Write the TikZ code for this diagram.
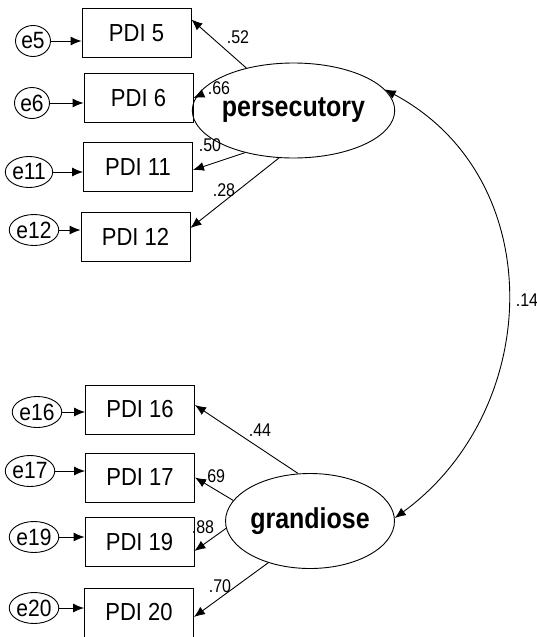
\documentclass[tikz,border=0pt]{standalone}
\usepackage{fontspec}
\setmainfont{Liberation Sans}
\usepackage{graphicx}
\usetikzlibrary{shapes.geometric,arrows.meta,calc}
% slightly taller lettering, as in the path-diagram output
\newcommand{\vstretch}[2][1.12]{\scalebox{1}[#1]{#2}}

\begin{document}
\begin{tikzpicture}[x=1pt,y=-1pt,
  obs/.style={draw,line width=0.9pt,minimum width=109pt,minimum height=49pt,inner sep=0pt,
              font=\fontsize{22}{22}\selectfont},
  lat/.style={draw,ellipse,line width=0.9pt,minimum width=161pt,minimum height=95pt,inner sep=0pt,
              font=\fontsize{25}{25}\selectfont\bfseries},
  err/.style={draw,ellipse,line width=0.9pt,minimum width=35pt,minimum height=31pt,inner sep=0pt,
              font=\fontsize{21}{21}\selectfont},
  ld/.style={inner sep=0pt,font=\fontsize{16}{16}\selectfont},
  arr/.style={-{Latex[length=11pt,width=9pt]},line width=0.9pt},
  cov/.style={{Latex[length=11pt,width=9pt]}-{Latex[length=11pt,width=9pt]},line width=0.9pt}]

\useasboundingbox (0,0) rectangle (537,637);

% latent factors
\node[lat] (per) at (293.5,110.5) {\vstretch[1.15]{persecutory}};
\node[lat] (gra) at (310,521) {\vstretch[1.15]{grandiose}};

% observed items
\node[obs] (p5)  at (136.5,33)  {\vstretch{PDI 5}};
\node[obs] (p6)  at (138.5,98)  {\vstretch{PDI 6}};
\node[obs] (p11) at (138,167)   {\vstretch{PDI 11}};
\node[obs] (p12) at (135.5,237) {\vstretch{PDI 12}};
\node[obs] (p16) at (140,409.5) {\vstretch{PDI 16}};
\node[obs] (p17) at (140,477.5) {\vstretch{PDI 17}};
\node[obs] (p19) at (139.5,542) {\vstretch{PDI 19}};
\node[obs] (p20) at (139,612.5) {\vstretch{PDI 20}};

% error terms
\node[err] (e5)  at (33,41)   {\vstretch{e5}};
\node[err] (e6)  at (32,103)  {\vstretch{e6}};
\node[err] (e11) at (29,172)  {\vstretch{e11}};
\node[err] (e12) at (34,230)  {\vstretch{e12}};
\node[err] (e16) at (37,412)  {\vstretch{e16}};
\node[err] (e17) at (30,471)  {\vstretch{e17}};
\node[err] (e19) at (34,537)  {\vstretch{e19}};
\node[err] (e20) at (34,608)  {\vstretch{e20}};

% error -> item
\foreach \e/\p in {e5/p5,e6/p6,e11/p11,e12/p12,e16/p16,e17/p17,e19/p19,e20/p20}
  \draw[arr] (\e.east) -- (\e.east -| \p.west);

% loadings
\draw[arr] (per.138) -- ($(p5.north east)!0.23!(p5.south east)$);
\draw[arr] (per.172) -- (p6.east);
\draw[arr] (per.221) -- ($(p11.north east)!0.56!(p11.south east)$);
\draw[arr] (per.253) -- ($(p12.north east)!0.32!(p12.south east)$);
\draw[arr] (gra.104) -- ($(p16.north east)!0.41!(p16.south east)$);
\draw[arr] (gra.165) -- (p17.east);
\draw[arr] (gra.185) -- ($(p19.north east)!0.68!(p19.south east)$);
\draw[arr] (gra.225) -- ($(p20.north east)!0.59!(p20.south east)$);

% factor covariance
\draw[cov] (per.13) .. controls +(165,88) and +(149,-109) .. (gra.2);

% coefficient labels
\node[ld] (l52) at (238,37)  {\vstretch[1.15]{.52}};
\node[ld] (l66) at (219,88)  {\vstretch[1.15]{.66}};
\node[ld] (l50) at (210,145) {\vstretch[1.15]{.50}};
\node[ld] (l28) at (224,190) {\vstretch[1.15]{.28}};
\node[ld] (l44) at (260,430) {\vstretch[1.15]{.44}};
\node[ld] (l69) at (214,476) {\vstretch[1.15]{.69}};
\node[ld] (l88) at (203,527) {\vstretch[1.15]{.88}};
\node[ld] (l70) at (220,586) {\vstretch[1.15]{.70}};
\node[ld] (l14) at (527,300) {\vstretch[1.15]{.14}};
\end{tikzpicture}
\end{document}
